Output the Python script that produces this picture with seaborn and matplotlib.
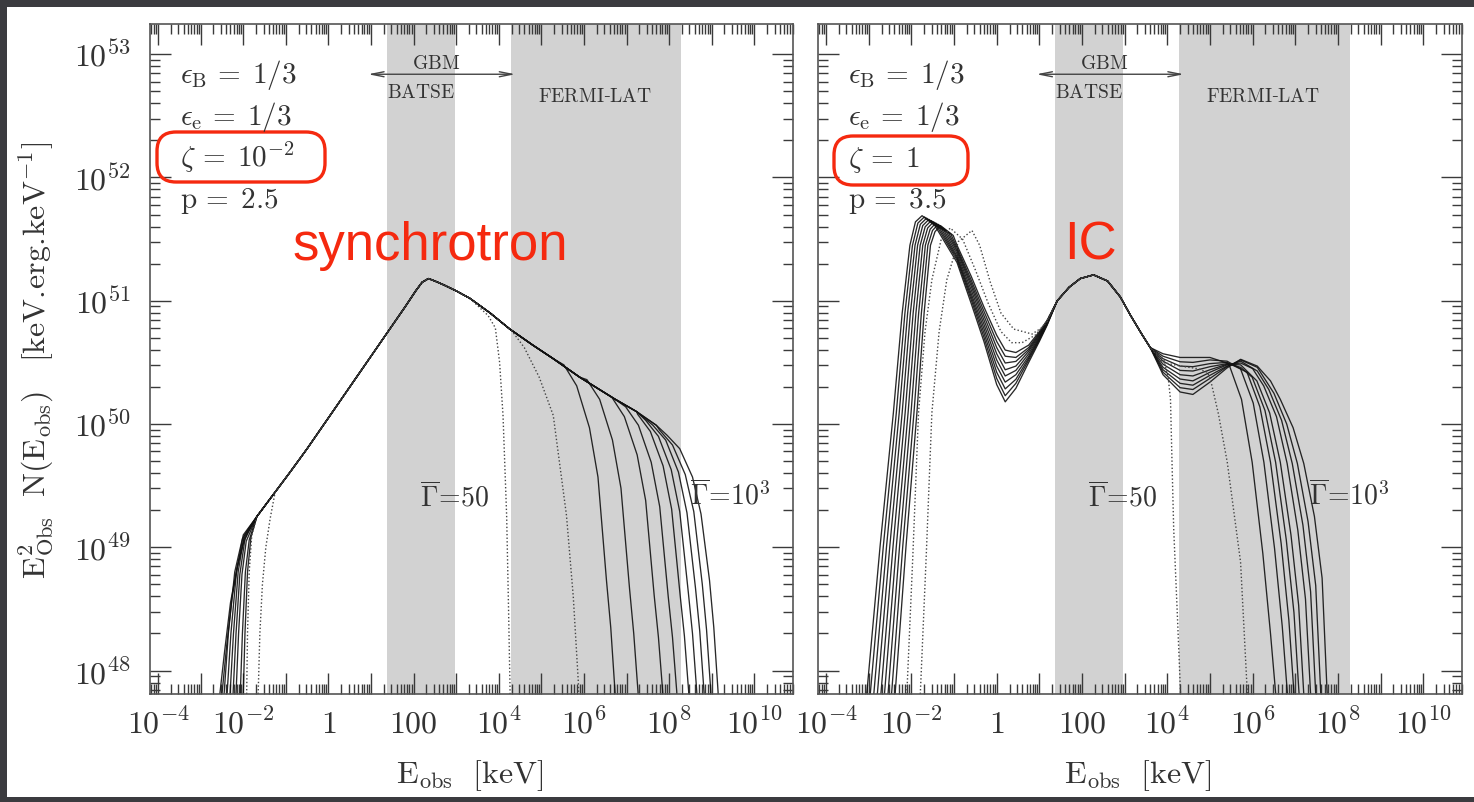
import numpy as np
import pandas as pd
import matplotlib
matplotlib.use("Agg")
import matplotlib.pyplot as plt
import seaborn as sns
from matplotlib.patches import FancyBboxPatch, Rectangle
from matplotlib.ticker import FixedLocator, LogLocator, NullFormatter

# ------------------------------------------------------------------
# Axis ticks / labels  (log10 of E_obs [keV] and of E^2 N(E))
# ------------------------------------------------------------------
X_TICK_EXP = [-4, -3, -2, -1, 0, 1, 2, 3, 4, 5, 6, 7, 8, 9, 10]
X_TICK_LABELS = [r"$10^{-4}$", "", r"$10^{-2}$", "", r"$1$", "", r"$100$", "",
                 r"$10^{4}$", "", r"$10^{6}$", "", r"$10^{8}$", "", r"$10^{10}$"]
Y_TICK_EXP = [48, 49, 50, 51, 52, 53]
Y_TICK_LABELS = [r"$10^{48}$", r"$10^{49}$", r"$10^{50}$", r"$10^{51}$",
                 r"$10^{52}$", r"$10^{53}$"]
X_LIM_EXP = (-4.19, 10.91)
Y_LIM_EXP = (47.81, 53.245)

BATSE_BAND = (1.37, 2.97)
LAT_BAND = (4.28, 8.28)
GBM_RANGE = (0.93, 4.39)

# ------------------------------------------------------------------
# Left panel (synchrotron, zeta = 1e-2, p = 2.5) : (log10 E, log10 E^2N)
# ------------------------------------------------------------------
SYN_BODY = [(-1.68, 49.25), (-1.29, 49.43), (-0.90, 49.61), (-0.50, 49.80),
            (-0.10, 50.00), (0.40, 50.25), (0.90, 50.50), (1.40, 50.75),
            (1.80, 50.95), (2.05, 51.08), (2.20, 51.15), (2.35, 51.18), (2.50, 51.16),
            (2.70, 51.13), (3.00, 51.08), (3.32, 51.02), (3.80, 50.90),
            (4.26, 50.77), (4.80, 50.64), (5.28, 50.53), (5.90, 50.38),
            (6.69, 50.21), (7.24, 50.10), (7.70, 49.99), (8.20, 49.86)]

SYN_S0_LOW = [(-2.03, 47.4), (-2.00, 47.81), (-1.96, 48.3), (-1.90, 48.8), (-1.82, 49.08)]
SYN_S1_LOW = [(-2.10, 47.4), (-2.07, 47.81), (-2.02, 48.3), (-1.95, 48.8), (-1.86, 49.06)]
SYN_S2_LOW = [(-2.20, 47.4), (-2.17, 47.81), (-2.11, 48.3), (-2.03, 48.78), (-1.93, 49.05)]
SYN_S3_LOW = [(-2.27, 47.4), (-2.24, 47.81), (-2.17, 48.3), (-2.08, 48.78), (-1.96, 49.07)]
SYN_S4_LOW = [(-2.34, 47.4), (-2.31, 47.81), (-2.23, 48.3), (-2.12, 48.8), (-1.98, 49.09)]
SYN_S5_LOW = [(-2.41, 47.4), (-2.38, 47.81), (-2.29, 48.3), (-2.16, 48.8), (-2.00, 49.10)]
SYN_S6_LOW = [(-2.48, 47.4), (-2.45, 47.81), (-2.35, 48.3), (-2.20, 48.8), (-2.02, 49.07), (-1.88, 49.15)]
SYN_S7_LOW = [(-2.53, 47.4), (-2.50, 47.81), (-2.39, 48.2), (-2.26, 48.6), (-2.12, 48.87), (-1.97, 49.08)]
SYN_S8_LOW = [(-2.58, 47.4), (-2.55, 47.81), (-2.44, 48.15), (-2.30, 48.55), (-2.15, 48.83),
              (-2.00, 49.03), (-1.88, 49.13)]
SYN_D1_LOW = [(-1.94, 47.4), (-1.92, 47.81), (-1.90, 48.3), (-1.86, 48.8), (-1.80, 49.10)]
SYN_D0_LOW = [(-1.67, 47.4), (-1.65, 47.81), (-1.61, 48.3), (-1.55, 48.7), (-1.47, 49.0),
              (-1.37, 49.23), (-1.25, 49.45)]

SYN_S0_HIGH = [(5.53, 50.48), (5.83, 50.31), (6.13, 49.97), (6.33, 49.57), (6.53, 48.73),
               (6.63, 48.35), (6.73, 47.83), (6.78, 47.4)]
SYN_S1_HIGH = [(6.07, 50.36), (6.37, 50.20), (6.67, 49.87), (6.87, 49.48), (7.07, 48.67),
               (7.17, 48.30), (7.27, 47.83), (7.32, 47.4)]
SYN_S2_HIGH = [(6.65, 50.22), (6.95, 50.06), (7.25, 49.75), (7.45, 49.38), (7.65, 48.61),
               (7.75, 48.27), (7.85, 47.83), (7.90, 47.4)]
SYN_S3_HIGH = [(6.98, 50.14), (7.28, 49.99), (7.58, 49.69), (7.78, 49.33), (7.98, 48.60),
               (8.08, 48.27), (8.18, 47.83), (8.23, 47.4)]
SYN_S4_HIGH = [(7.26, 50.08), (7.56, 49.94), (7.86, 49.66), (8.06, 49.31), (8.26, 48.61),
               (8.36, 48.28), (8.46, 47.83), (8.51, 47.4)]
SYN_S5_HIGH = [(7.45, 50.03), (7.75, 49.90), (8.05, 49.63), (8.25, 49.29), (8.45, 48.64),
               (8.55, 48.30), (8.65, 47.83), (8.70, 47.4)]
SYN_S6_HIGH = [(7.62, 49.99), (7.92, 49.87), (8.22, 49.61), (8.42, 49.28), (8.62, 48.67),
               (8.72, 48.32), (8.82, 47.83), (8.87, 47.4)]
SYN_S7_HIGH = [(7.78, 49.95), (8.08, 49.83), (8.38, 49.59), (8.58, 49.29), (8.78, 48.70),
               (8.88, 48.33), (8.98, 47.83), (9.03, 47.4)]
SYN_S8_HIGH = [(7.95, 49.91), (8.25, 49.80), (8.55, 49.57), (8.75, 49.27), (8.95, 48.73),
               (9.05, 48.35), (9.15, 47.83), (9.20, 47.4)]
SYN_D0_HIGH = [(3.75, 50.88), (3.92, 50.78), (4.02, 50.50), (4.10, 50.07), (4.185, 49.26),
               (4.23, 48.5), (4.263, 47.88), (4.28, 47.4)]
SYN_D1_HIGH = [(4.30, 50.76), (4.60, 50.62), (4.95, 50.38), (5.28, 50.07), (5.59, 49.26),
               (5.75, 48.6), (5.87, 47.9), (5.90, 47.4)]

# ------------------------------------------------------------------
# Right panel (IC, zeta = 1, p = 3.5)
# ------------------------------------------------------------------
IC_COMMON = [(1.42, 51.00), (1.70, 51.11), (1.96, 51.18), (2.27, 51.21), (2.60, 51.16),
             (2.90, 51.03), (3.14, 50.88), (3.40, 50.73), (3.60, 50.62)]

IC_R0_HEAD = [(-2.46, 47.4), (-2.38, 47.82), (-2.126, 49.01), (-1.871, 50.09), (-1.702, 50.90),
              (-1.553, 51.45), (-1.447, 51.56), (-1.32, 51.61), (-1.02, 51.53), (-0.93, 51.45),
              (-0.60, 51.20), (-0.30, 50.95), (0.00, 50.72), (0.20, 50.60), (0.45, 50.58),
              (0.75, 50.64), (1.00, 50.75), (1.18, 50.84)]
IC_R1_HEAD = [(-2.54, 47.4), (-2.463, 47.82), (-2.202, 49.01), (-1.940, 50.09), (-1.766, 50.90),
              (-1.614, 51.45), (-1.505, 51.57), (-1.374, 51.62), (-1.074, 51.54), (-0.93, 51.43),
              (-0.60, 51.17), (-0.30, 50.915), (0.00, 50.67), (0.20, 50.55), (0.45, 50.54),
              (0.75, 50.62), (1.00, 50.74), (1.18, 50.835)]
IC_R2_HEAD = [(-2.63, 47.4), (-2.546, 47.82), (-2.277, 49.01), (-2.009, 50.09), (-1.830, 50.90),
              (-1.673, 51.45), (-1.561, 51.58), (-1.428, 51.63), (-1.128, 51.55), (-0.93, 51.415),
              (-0.60, 51.145), (-0.30, 50.88), (0.00, 50.62), (0.20, 50.495), (0.45, 50.508),
              (0.75, 50.605), (1.00, 50.73), (1.18, 50.83)]
IC_R3_HEAD = [(-2.71, 47.4), (-2.629, 47.82), (-2.353, 49.01), (-2.078, 50.09), (-1.894, 50.90),
              (-1.734, 51.45), (-1.619, 51.59), (-1.481, 51.64), (-1.181, 51.56), (-0.93, 51.40),
              (-0.60, 51.12), (-0.30, 50.845), (0.00, 50.57), (0.20, 50.44), (0.45, 50.47),
              (0.75, 50.59), (1.00, 50.72), (1.18, 50.825)]
IC_R4_HEAD = [(-2.79, 47.4), (-2.713, 47.82), (-2.430, 49.01), (-2.147, 50.09), (-1.959, 50.90),
              (-1.794, 51.45), (-1.677, 51.60), (-1.535, 51.65), (-1.235, 51.57), (-0.93, 51.38),
              (-0.60, 51.09), (-0.30, 50.81), (0.00, 50.52), (0.20, 50.39), (0.45, 50.435),
              (0.75, 50.57), (1.00, 50.71), (1.18, 50.82)]
IC_R5_HEAD = [(-2.88, 47.4), (-2.796, 47.82), (-2.506, 49.01), (-2.217, 50.09), (-2.024, 50.90),
              (-1.855, 51.45), (-1.734, 51.61), (-1.589, 51.66), (-1.289, 51.58), (-0.93, 51.36),
              (-0.60, 51.06), (-0.30, 50.775), (0.00, 50.47), (0.20, 50.34), (0.45, 50.40),
              (0.75, 50.55), (1.00, 50.70), (1.18, 50.815)]
IC_R6_HEAD = [(-2.96, 47.4), (-2.879, 47.82), (-2.582, 49.01), (-2.286, 50.09), (-2.088, 50.90),
              (-1.915, 51.45), (-1.791, 51.62), (-1.643, 51.67), (-1.343, 51.59), (-0.93, 51.345),
              (-0.60, 51.035), (-0.30, 50.74), (0.00, 50.42), (0.20, 50.285), (0.45, 50.363),
              (0.75, 50.535), (1.00, 50.69), (1.18, 50.81)]
IC_R7_HEAD = [(-3.04, 47.4), (-2.962, 47.82), (-2.658, 49.01), (-2.354, 50.09), (-2.152, 50.90),
              (-1.975, 51.45), (-1.848, 51.63), (-1.696, 51.68), (-1.396, 51.60), (-0.93, 51.33),
              (-0.60, 51.01), (-0.30, 50.705), (0.00, 50.37), (0.20, 50.23), (0.45, 50.33),
              (0.75, 50.52), (1.00, 50.68), (1.18, 50.805)]
IC_R8_HEAD = [(-3.12, 47.4), (-3.045, 47.82), (-2.734, 49.01), (-2.423, 50.09), (-2.216, 50.90),
              (-2.035, 51.45), (-1.905, 51.64), (-1.75, 51.69), (-1.45, 51.61), (-0.93, 51.31),
              (-0.60, 50.98), (-0.30, 50.67), (0.00, 50.32), (0.20, 50.18), (0.45, 50.29),
              (0.75, 50.50), (1.00, 50.67), (1.18, 50.80)]
IC_D1_HEAD = [(-2.14, 47.4), (-2.106, 47.82), (-1.97, 48.90), (-1.833, 50.09), (-1.68, 50.75),
              (-1.52, 51.17), (-1.30, 51.50), (-1.09, 51.59), (-0.80, 51.50), (-0.50, 51.25),
              (-0.20, 50.98), (0.10, 50.75), (0.35, 50.66), (0.594, 50.66), (0.90, 50.72),
              (1.18, 50.83)]
IC_D0_HEAD = [(-1.83, 47.4), (-1.79, 47.82), (-1.65, 48.95), (-1.52, 50.09), (-1.35, 50.75),
              (-1.17, 51.17), (-0.90, 51.48), (-0.58, 51.57), (-0.40, 51.45), (-0.15, 51.15),
              (0.10, 50.90), (0.40, 50.77), (0.83, 50.73), (1.05, 50.78), (1.18, 50.84)]

IC_R0_TAIL = [(3.9, 50.57), (4.3, 50.54), (4.6, 50.54), (5.0, 50.54), (5.44, 50.49), (5.74, 50.20),
              (5.99, 49.69), (6.24, 48.95), (6.42, 48.30), (6.54, 47.82), (6.58, 47.4)]
IC_R1_TAIL = [(3.9, 50.55), (4.3, 50.505), (4.6, 50.50), (5.0, 50.52), (5.4, 50.51), (5.715, 50.45),
              (6.015, 50.17), (6.265, 49.69), (6.515, 48.99), (6.695, 48.36), (6.815, 47.82),
              (6.86, 47.4)]
IC_R2_TAIL = [(3.9, 50.53), (4.3, 50.47), (4.6, 50.465), (5.0, 50.49), (5.4, 50.50), (5.87, 50.42),
              (6.17, 50.14), (6.42, 49.69), (6.67, 49.03), (6.85, 48.41), (6.97, 47.82), (7.01, 47.4)]
IC_R3_TAIL = [(3.9, 50.51), (4.3, 50.435), (4.6, 50.43), (5.0, 50.465), (5.4, 50.49), (5.72, 50.46),
              (5.99, 50.38), (6.29, 50.11), (6.54, 49.69), (6.79, 49.06), (6.97, 48.47),
              (7.09, 47.81), (7.13, 47.4)]
IC_R4_TAIL = [(3.9, 50.485), (4.3, 50.40), (4.6, 50.39), (5.0, 50.44), (5.4, 50.485), (5.72, 50.48),
              (6.10, 50.35), (6.40, 50.09), (6.65, 49.69), (6.90, 49.10), (7.08, 48.53),
              (7.20, 47.81), (7.24, 47.4)]
IC_R5_TAIL = [(3.9, 50.46), (4.3, 50.365), (4.6, 50.35), (5.0, 50.42), (5.4, 50.48), (5.72, 50.495),
              (6.00, 50.45), (6.26, 50.31), (6.56, 50.06), (6.81, 49.68), (7.06, 49.14),
              (7.24, 48.58), (7.36, 47.81), (7.40, 47.4)]
IC_R6_TAIL = [(3.9, 50.44), (4.3, 50.33), (4.6, 50.315), (5.0, 50.395), (5.4, 50.47), (5.72, 50.51),
              (6.11, 50.43), (6.38, 50.28), (6.68, 50.03), (6.93, 49.68), (7.18, 49.18),
              (7.36, 48.64), (7.48, 47.81), (7.52, 47.4)]
IC_R7_TAIL = [(3.9, 50.42), (4.3, 50.295), (4.6, 50.28), (5.0, 50.37), (5.4, 50.465), (5.72, 50.52),
              (6.11, 50.46), (6.50, 50.25), (6.80, 50.00), (7.05, 49.68), (7.30, 49.21),
              (7.48, 48.69), (7.60, 47.80), (7.64, 47.4)]
IC_R8_TAIL = [(3.9, 50.40), (4.3, 50.26), (4.6, 50.24), (5.0, 50.34), (5.4, 50.455), (5.72, 50.525),
              (6.11, 50.47), (6.42, 50.35), (6.65, 50.20), (6.95, 49.97), (7.20, 49.68),
              (7.45, 49.25), (7.63, 48.75), (7.75, 47.80), (7.79, 47.4)]
IC_D0_TAIL = [(3.92, 50.52), (4.02, 50.38), (4.075, 50.20), (4.11, 49.70), (4.15, 49.15),
              (4.23, 48.50), (4.31, 47.82), (4.33, 47.4)]
IC_D1_TAIL = [(3.9, 50.50), (4.3, 50.47), (4.7, 50.45), (4.94, 50.42), (5.014, 50.36), (5.2, 50.08),
              (5.406, 49.69), (5.718, 48.88), (5.876, 47.82), (5.90, 47.4)]

# ------------------------------------------------------------------
def left_curve(low, high):
    mid = [p for p in SYN_BODY if low[-1][0] < p[0] < high[0][0]]
    return low + mid + high


def right_curve(head, tail):
    return head + IC_COMMON + tail


LEFT_CURVES = [
    ("S0", "solid", left_curve(SYN_S0_LOW, SYN_S0_HIGH)),
    ("S1", "solid", left_curve(SYN_S1_LOW, SYN_S1_HIGH)),
    ("S2", "solid", left_curve(SYN_S2_LOW, SYN_S2_HIGH)),
    ("S3", "solid", left_curve(SYN_S3_LOW, SYN_S3_HIGH)),
    ("S4", "solid", left_curve(SYN_S4_LOW, SYN_S4_HIGH)),
    ("S5", "solid", left_curve(SYN_S5_LOW, SYN_S5_HIGH)),
    ("S6", "solid", left_curve(SYN_S6_LOW, SYN_S6_HIGH)),
    ("S7", "solid", left_curve(SYN_S7_LOW, SYN_S7_HIGH)),
    ("S8", "solid", left_curve(SYN_S8_LOW, SYN_S8_HIGH)),
    ("D0", "dotted", left_curve(SYN_D0_LOW, SYN_D0_HIGH)),
    ("D1", "dotted", left_curve(SYN_D1_LOW, SYN_D1_HIGH)),
]
RIGHT_CURVES = [
    ("R0", "solid", right_curve(IC_R0_HEAD, IC_R0_TAIL)),
    ("R1", "solid", right_curve(IC_R1_HEAD, IC_R1_TAIL)),
    ("R2", "solid", right_curve(IC_R2_HEAD, IC_R2_TAIL)),
    ("R3", "solid", right_curve(IC_R3_HEAD, IC_R3_TAIL)),
    ("R4", "solid", right_curve(IC_R4_HEAD, IC_R4_TAIL)),
    ("R5", "solid", right_curve(IC_R5_HEAD, IC_R5_TAIL)),
    ("R6", "solid", right_curve(IC_R6_HEAD, IC_R6_TAIL)),
    ("R7", "solid", right_curve(IC_R7_HEAD, IC_R7_TAIL)),
    ("R8", "solid", right_curve(IC_R8_HEAD, IC_R8_TAIL)),
    ("D0", "dotted", right_curve(IC_D0_HEAD, IC_D0_TAIL)),
    ("D1", "dotted", right_curve(IC_D1_HEAD, IC_D1_TAIL)),
]


def to_frame(curves):
    rows = []
    for name, style, pts in curves:
        for lx, ly in pts:
            rows.append({"curve": name, "style": style, "E": 10.0 ** lx, "F": 10.0 ** ly})
    return pd.DataFrame(rows)


# ------------------------------------------------------------------
sns.set_style("ticks")
plt.rcParams["mathtext.fontset"] = "cm"
plt.rcParams["font.family"] = ["DejaVu Serif"]

W, H = 1474, 803
fig = plt.figure(figsize=(W / 100, H / 100), dpi=100)
fig.patch.set_facecolor("#3b3b3f")
fig.add_artist(Rectangle((7 / W, 5 / H), 1 - 7 / W, 1 - 13 / H, transform=fig.transFigure,
                         facecolor="white", edgecolor="none", zorder=-5))

PANEL_BOX = [(150, 793), (818, 1462)]
TOP, BOT = 25, 695
INK = "#3a3a3a"

axes = []
for (x0, x1), curves in zip(PANEL_BOX, [LEFT_CURVES, RIGHT_CURVES]):
    ax = fig.add_axes([x0 / W, (H - BOT) / H, (x1 - x0) / W, (BOT - TOP) / H])
    ax.set_xscale("log")
    ax.set_yscale("log")
    ax.axvspan(10 ** BATSE_BAND[0], 10 ** BATSE_BAND[1], color="#d2d2d2", lw=0, zorder=0)
    ax.axvspan(10 ** LAT_BAND[0], 10 ** LAT_BAND[1], color="#d2d2d2", lw=0, zorder=0)
    df = to_frame(curves)
    sns.lineplot(data=df[df["style"] == "solid"], x="E", y="F", units="curve",
                 estimator=None, sort=False, color="#111111", linewidth=0.95,
                 alpha=0.9, legend=False, ax=ax)
    sns.lineplot(data=df[df["style"] == "dotted"], x="E", y="F", units="curve",
                 estimator=None, sort=False, color="#444444", linewidth=1.0,
                 dashes=False, legend=False, ax=ax, linestyle=(0, (1, 1.6)))
    ax.set_xlim(10 ** X_LIM_EXP[0], 10 ** X_LIM_EXP[1])
    ax.set_ylim(10 ** Y_LIM_EXP[0], 10 ** Y_LIM_EXP[1])
    ax.xaxis.set_major_locator(FixedLocator([10.0 ** e for e in X_TICK_EXP]))
    ax.set_xticklabels(X_TICK_LABELS)
    ax.xaxis.set_minor_locator(LogLocator(base=10, subs=np.arange(2, 10), numticks=100))
    ax.xaxis.set_minor_formatter(NullFormatter())
    ax.yaxis.set_major_locator(FixedLocator([10.0 ** e for e in Y_TICK_EXP]))
    ax.yaxis.set_minor_locator(LogLocator(base=10, subs=np.arange(2, 10), numticks=100))
    ax.yaxis.set_minor_formatter(NullFormatter())
    if x0 == 150:
        ax.set_yticklabels(Y_TICK_LABELS)
    else:
        ax.set_yticklabels([""] * len(Y_TICK_EXP))
    ax.tick_params(which="both", direction="in", top=True, right=True, colors=INK,
                   labelcolor="#333333", width=1.0)
    ax.tick_params(which="major", length=15, labelsize=23, pad=10)
    ax.tick_params(axis="y", which="major", pad=14)
    ax.tick_params(which="minor", length=7)
    for s in ax.spines.values():
        s.set_color("#555555")
        s.set_linewidth(1.2)
    ax.set_xlabel("")
    ax.set_ylabel("")
    ax.annotate("", xy=(10 ** GBM_RANGE[1], 0.925), xytext=(10 ** GBM_RANGE[0], 0.925),
                xycoords=ax.get_xaxis_transform(), textcoords=ax.get_xaxis_transform(),
                arrowprops=dict(arrowstyle="<->,head_length=0.9,head_width=0.18",
                                color="#444444", lw=1.0, shrinkA=0, shrinkB=0))
    axes.append(ax)

# ------------------------------------------------------------------
# Overlay texts (pixel coordinates)
# ------------------------------------------------------------------
ov = fig.add_axes([0, 0, 1, 1])
ov.set_xlim(0, W)
ov.set_ylim(H, 0)
ov.axis("off")
ov.set_zorder(10)
ov.patch.set_alpha(0)

PARAMS_LEFT = [r"$\epsilon_{\rm B}\,=\;1/3$", r"$\epsilon_{\rm e}\,=\;1/3$",
               r"$\zeta\,=\;10^{-2}$", r"$\rm p\,=\;2.5$"]
PARAMS_RIGHT = [r"$\epsilon_{\rm B}\,=\;1/3$", r"$\epsilon_{\rm e}\,=\;1/3$",
                r"$\zeta\,=\;1$", r"$\rm p\,=\;3.5$"]
BASELINES = [83, 125, 167, 208]
DX = 668
TXT = "#333333"
RED = "#f5290f"

for off, params in [(0, PARAMS_LEFT), (DX, PARAMS_RIGHT)]:
    for s, yb in zip(params, BASELINES):
        ov.text(180 + off, yb, s, fontsize=21, color=TXT, ha="left", va="baseline")
    ov.text(436 + off, 64, r"$\rm GBM$", fontsize=14, color=TXT, ha="center", va="center")
    ov.text(421 + off, 93, r"$\rm BATSE$", fontsize=14, color=TXT, ha="center", va="center")
    ov.text(595 + off, 97, r"$\rm FERMI$-$\rm LAT$", fontsize=14, color=TXT, ha="center", va="center")
    ov.text(420 + off, 497, r"$\overline{\Gamma}\!=\!50$", fontsize=20, color=TXT,
            ha="left", va="center")
    ov.text(470 + off, 776, r"$\rm E_{obs}\ \ [keV]$", fontsize=23, color=TXT,
            ha="center", va="center")

ov.text(690, 495, r"$\overline{\Gamma}\!=\!10^3$", fontsize=20, color=TXT, ha="left", va="center")
ov.text(1309, 495, r"$\overline{\Gamma}\!=\!10^3$", fontsize=20, color=TXT, ha="left", va="center")

ov.text(36, 360, r"$\rm E^2_{Obs}\ \ N(E_{obs})\ \ \ [keV.\!erg.\!keV^{-1}]$", fontsize=23,
        color=TXT, rotation=90, ha="center", va="center")

ov.text(430, 246, "synchrotron", fontsize=38, color=RED, family="Liberation Sans",
        ha="center", va="center")
ov.text(1090, 246, "IC", fontsize=38, color=RED, family="Liberation Sans",
        ha="center", va="center")

for (bx0, by0, bx1, by1) in [(157, 133, 325, 183), (834, 137, 968, 186)]:
    ov.add_patch(FancyBboxPatch((bx0, by0), bx1 - bx0, by1 - by0,
                                boxstyle="round,pad=0,rounding_size=19",
                                facecolor="none", edgecolor=RED, linewidth=2.4))

fig.savefig("out.png", dpi=100, facecolor=fig.get_facecolor())
